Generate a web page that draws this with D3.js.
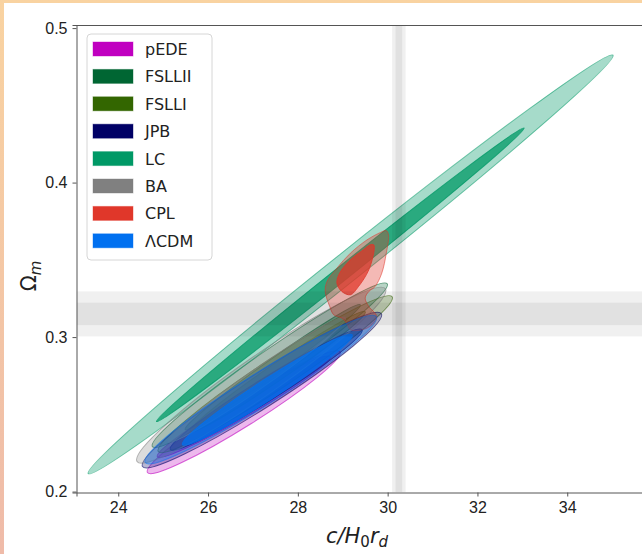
<!DOCTYPE html>
<html lang="en">
<head>
    <meta charset="UTF-8">
    <title>Omega_m vs c/H0rd</title>
    <script src="https://d3js.org/d3.v7.min.js"></script>
    <style>
        body {
            margin: 0;
            background: #fff;
        }

        svg {
            display: block;
            font-family: "DejaVu Sans", sans-serif;
        }

        .tick text {
            font-size: 16px;
            fill: #222;
        }

        .axis path,
        .axis line {
            stroke: #555;
        }
    </style>
</head>
<body>
    <div id="chart"></div>

    <script>
        // models, in legend / drawing order
        const models = ["pEDE", "FSLLII", "FSLLI", "JPB", "LC", "BA", "CPL", "\u039bCDM"];
        const colors = ["#c000c0", "#006633", "#336600", "#000066", "#009966", "#808080", "#e0372a", "#0070f0"];

        // ellipse contours: the two ends of the long axis (data units)
        // and the ratio of short to long axis. [outer 2 sigma, inner 1 sigma]
        const tipX1 = [[24.65, 24.87], [24.76, 25.49], [24.89, 25.60], [24.54, 25.16], [23.33, 24.85], [24.42, 25.11], null, [24.60, 25.43]];
        const tipY1 = [[0.2123, 0.2226], [0.2291, 0.2401], [0.2259, 0.2388], [0.2162, 0.2272], [0.2116, 0.2453], [0.2194, 0.2323], null, [0.2188, 0.2304]];
        const tipX2 = [[28.94, 28.72], [29.99, 29.39], [30.10, 29.50], [29.86, 29.43], [35.02, 33.04], [29.95, 29.06], null, [29.75, 29.21]];
        const tipY2 = [[0.2905, 0.2873], [0.3345, 0.3209], [0.3261, 0.3164], [0.3151, 0.3047], [0.4825, 0.4353], [0.3313, 0.3125], null, [0.3132, 0.3015]];
        const widthRatio = [[0.12, 0.10], [0.10, 0.07], [0.11, 0.08], [0.12, 0.10], [0.043, 0.03], [0.13, 0.09], null, [0.12, 0.10]];

        // CPL contours are not ellipses, so they are traced point by point
        const cplOuterX = [29.97, 30.02, 29.97, 29.87, 29.72, 29.58, 29.50, 29.58, 29.75, 29.65, 29.43, 29.17, 29.09, 28.98, 28.80, 28.71, 28.61, 28.65, 28.87, 29.17, 29.54, 29.84];
        const cplOuterY = [0.3689, 0.3662, 0.3543, 0.3414, 0.3327, 0.3295, 0.3252, 0.3198, 0.3138, 0.3080, 0.3047, 0.3047, 0.3091, 0.3123, 0.3144, 0.3198, 0.3295, 0.3360, 0.3446, 0.3543, 0.3629, 0.3677];
        const cplInnerX = [29.69, 29.70, 29.58, 29.35, 29.17, 28.98, 28.87, 28.93, 29.17, 29.46, 29.61];
        const cplInnerY = [0.3597, 0.3565, 0.3435, 0.3327, 0.3274, 0.3295, 0.3349, 0.3414, 0.3500, 0.3565, 0.3597];

        // external priors: vertical band on c/H0rd, horizontal band on Omega_m
        const bandX = [30.25, 0.075];
        const bandY = [0.315, 0.0073];

        const xTicks = [24, 26, 28, 30, 32, 34];
        const yTicks = [0.2, 0.3, 0.4, 0.5];

        const width = 642;
        const height = 554;
        const margin = { top: 25, left: 76.5, bottom: 492.5 };

        const svg = d3.select("#chart").append("svg")
            .attr("width", width)
            .attr("height", height);

        // peach frame round the screenshot
        const grad = svg.append("defs").append("linearGradient")
            .attr("id", "frame")
            .attr("x1", 0).attr("y1", 0).attr("x2", 0).attr("y2", 1);
        grad.append("stop").attr("offset", "0%").attr("stop-color", "#f9d3a1");
        grad.append("stop").attr("offset", "100%").attr("stop-color", "#efbba9");
        svg.append("rect").attr("width", width).attr("height", height).attr("fill", "url(#frame)");
        svg.append("rect").attr("x", 4).attr("y", 3).attr("width", width).attr("height", height).attr("fill", "#fff");

        const x = d3.scaleLinear()
            .domain([23.07, 36.3])
            .range([margin.left, 670.5]);

        const y = d3.scaleLinear()
            .domain([0.1994, 0.502])
            .range([margin.bottom, margin.top]);

        svg.append("clipPath").attr("id", "plotclip")
            .append("rect")
            .attr("x", margin.left).attr("y", margin.top)
            .attr("width", 670.5 - margin.left).attr("height", margin.bottom - margin.top);

        const plot = svg.append("g").attr("clip-path", "url(#plotclip)");

        // contours; the models drawn underneath are a bit fainter
        const line = d3.line().curve(d3.curveCatmullRomClosed.alpha(0.5));
        const strong = { fill: [0.35, 0.75], stroke: [0.55, 0.8] };
        const faint = { fill: [0.28, 0.45], stroke: [0.6, 0.7] };

        models.forEach((m, i) => {
            const g = plot.append("g");
            const lv = (m === "LC" || m === "CPL" || m === "\u039bCDM") ? strong : faint;
            [0, 1].forEach(k => {
                if (m === "CPL") {
                    const xs = k === 0 ? cplOuterX : cplInnerX;
                    const ys = k === 0 ? cplOuterY : cplInnerY;
                    g.append("path")
                        .attr("d", line(xs.map((v, j) => [x(v), y(ys[j])])))
                        .attr("fill", colors[i]).attr("fill-opacity", lv.fill[k])
                        .attr("stroke", colors[i]).attr("stroke-opacity", lv.stroke[k])
                        .attr("stroke-width", 1);
                    return;
                }
                const px1 = x(tipX1[i][k]), py1 = y(tipY1[i][k]);
                const px2 = x(tipX2[i][k]), py2 = y(tipY2[i][k]);
                const cx = (px1 + px2) / 2, cy = (py1 + py2) / 2;
                const a = Math.hypot(px2 - px1, py2 - py1) / 2;
                const ang = Math.atan2(py2 - py1, px2 - px1) * 180 / Math.PI;
                g.append("ellipse")
                    .attr("cx", cx).attr("cy", cy)
                    .attr("rx", a).attr("ry", a * widthRatio[i][k])
                    .attr("transform", `rotate(${ang} ${cx} ${cy})`)
                    .attr("fill", colors[i]).attr("fill-opacity", lv.fill[k])
                    .attr("stroke", colors[i]).attr("stroke-opacity", lv.stroke[k])
                    .attr("stroke-width", 1);
            });
        });

        // prior bands (1 and 2 sigma)
        [2, 1].forEach(n => {
            plot.append("rect")
                .attr("x", x(bandX[0] - n * bandX[1]))
                .attr("width", x(bandX[0] + n * bandX[1]) - x(bandX[0] - n * bandX[1]))
                .attr("y", margin.top).attr("height", margin.bottom - margin.top)
                .attr("fill", "#000").attr("fill-opacity", 0.06);
            plot.append("rect")
                .attr("x", margin.left).attr("width", 670.5 - margin.left)
                .attr("y", y(bandY[0] + n * bandY[1]))
                .attr("height", y(bandY[0] - n * bandY[1]) - y(bandY[0] + n * bandY[1]))
                .attr("fill", "#000").attr("fill-opacity", 0.06);
        });

        // axes
        svg.append("g")
            .attr("class", "axis")
            .attr("transform", `translate(0, ${margin.bottom})`)
            .call(d3.axisBottom(x).tickValues(xTicks).tickFormat(d3.format("d")).tickSize(4).tickPadding(5));

        svg.append("g")
            .attr("class", "axis")
            .attr("transform", `translate(${margin.left}, 0)`)
            .call(d3.axisLeft(y).tickValues(yTicks).tickFormat(d3.format(".1f")).tickSize(4).tickPadding(5));

        svg.append("line")
            .attr("x1", margin.left).attr("x2", width)
            .attr("y1", margin.top + 0.5).attr("y2", margin.top + 0.5)
            .attr("stroke", "#555");

        // axis labels
        const xl = svg.append("text")
            .attr("x", 357).attr("y", 543)
            .attr("text-anchor", "middle")
            .style("font-size", "21px").style("font-style", "italic").attr("fill", "#222");
        xl.append("tspan").text("c/H");
        xl.append("tspan").attr("dy", 4).style("font-size", "15px").style("font-style", "normal").text("0");
        xl.append("tspan").attr("dy", -4).text("r");
        xl.append("tspan").attr("dy", 4).style("font-size", "15px").text("d");

        const yl = svg.append("text")
            .attr("transform", "translate(36, 276) rotate(-90)")
            .attr("text-anchor", "middle")
            .style("font-size", "21px").attr("fill", "#222");
        yl.append("tspan").text("\u03a9");
        yl.append("tspan").attr("dy", 5).style("font-size", "15px").style("font-style", "italic").text("m");

        // legend
        const legend = svg.append("g").attr("transform", "translate(87, 34)");
        legend.append("rect")
            .attr("width", 125).attr("height", 226).attr("rx", 4)
            .attr("fill", "#fff").attr("fill-opacity", 0.8)
            .attr("stroke", "#d6d6d6");

        models.forEach((m, i) => {
            const row = legend.append("g").attr("transform", `translate(6, ${8 + i * 27.4})`);
            row.append("rect")
                .attr("width", 40).attr("height", 14)
                .attr("fill", colors[i])
                .attr("stroke", colors[i]).attr("stroke-opacity", 0.4);
            row.append("text")
                .attr("x", 52).attr("y", 13)
                .style("font-size", "16px").attr("fill", "#222")
                .text(m);
        });
    </script>
</body>
</html>
